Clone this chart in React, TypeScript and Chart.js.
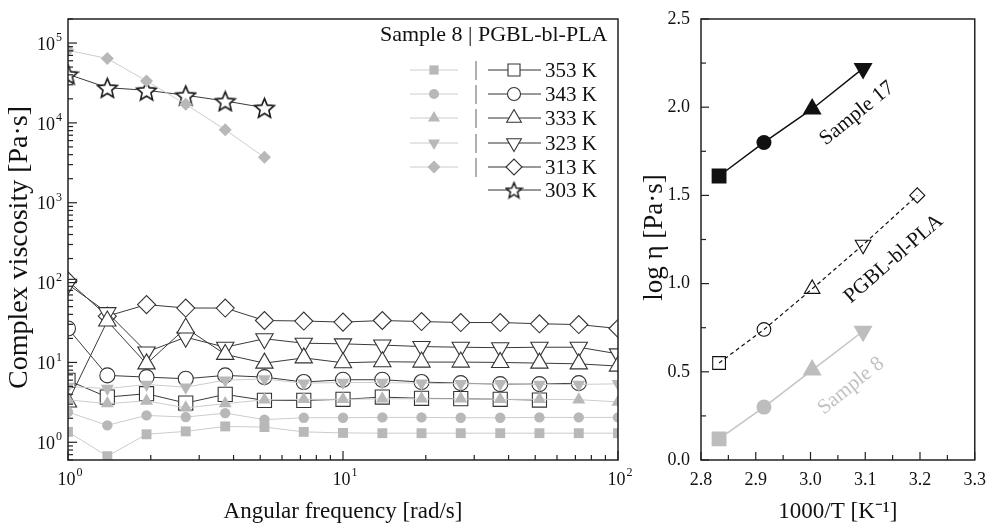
import React, { useEffect, useRef } from "react";
import { Chart, registerables } from "chart.js";
Chart.register(...registerables);

const SERIF = "'Liberation Serif', 'Times New Roman', serif";
Chart.defaults.font.family = SERIF;

// ---------- Left panel data ----------
const FREQ = [1, 1.39, 1.93, 2.68, 3.73, 5.18, 7.2, 10, 13.9, 19.3, 26.8, 37.3, 51.8, 72, 100];

const S8_353K = [1.35, 0.67, 1.26, 1.37, 1.58, 1.55, 1.35, 1.31, 1.3, 1.3, 1.3, 1.3, 1.3, 1.3, 1.3];
const S8_343K = [2.39, 1.63, 2.17, 2.07, 2.32, 1.92, 2.03, 2.03, 2.05, 2.05, 2.03, 2.03, 2.05, 2.05, 2.05];
const S8_333K = [3.4, 3.05, 3.3, 2.7, 3.05, 3.4, 3.45, 3.45, 3.5, 3.5, 3.5, 3.45, 3.45, 3.42, 3.2];
const S8_323K = [5.0, 4.7, 5.3, 4.9, 6.0, 6.2, 5.5, 5.6, 5.6, 5.5, 5.4, 5.4, 5.3, 5.3, 5.4];
const S8_313K = [81000, 64000, 33500, 17100, 8200, 3700];

const PG_353K = [5.96, 3.68, 4.06, 3.1, 3.98, 3.35, 3.35, 3.45, 3.68, 3.55, 3.52, 3.45, 3.38];
const PG_343K = [26.6, 6.88, 6.55, 6.25, 6.88, 6.55, 5.68, 6.07, 6.07, 5.68, 5.5, 5.35, 5.35, 5.5];
const PG_333K = [3.2, 33, 9.6, 27, 12.6, 9.8, 11.4, 9.9, 10.2, 10.1, 10.1, 10.0, 9.8, 9.6, 9.0];
const PG_323K = [95, 42, 13.5, 20.7, 15.5, 19.8, 17.4, 17.1, 16.5, 15.8, 15.5, 15.3, 15.5, 15.5, 12.8];
const PG_313K = [105, 38, 53, 48, 48, 33.5, 33, 32, 33.5, 32.5, 31.6, 31.6, 30.5, 29.8, 26.6];
const PG_303K = [40600, 27600, 25600, 22200, 18800, 15500];

const TEMPS = ["353 K", "343 K", "333 K", "323 K", "313 K", "303 K"];
const LEGEND_TITLE = "Sample 8 | PGBL-bl-PLA";
const X_TICKS_LEFT = [1, 10, 100];
const Y_TICKS_LEFT = [1, 10, 100, 1000, 10000, 100000];
const LEFT_Y_TITLE = "Complex viscosity [Pa·s]";

// ---------- Right panel data ----------
const INV_T = [2.833, 2.915, 3.003, 3.096, 3.195];
const LOG_S17 = [1.61, 1.8, 1.99, 2.22];
const LOG_PG = [0.55, 0.74, 0.97, 1.22, 1.5];
const LOG_S8 = [0.12, 0.3, 0.51, 0.73];
const X_TICKS_RIGHT = [2.8, 2.9, 3.0, 3.1, 3.2, 3.3];
const Y_TICKS_RIGHT = [0, 0.5, 1.0, 1.5, 2.0, 2.5];
const RIGHT_Y_TITLE = "log η [Pa·s]";

const GRAY = "#b8b8b8";
const GRAY_LINE = "#cccccc";
const DARK = "#333333";

const xy = (xs: number[], ys: number[]) => ys.map((y, i) => ({ x: xs[i], y }));

function makeStar(size: number, stroke: string, lw: number) {
  const c = document.createElement("canvas");
  c.width = size;
  c.height = size;
  const ctx = c.getContext("2d")!;
  const cx = size / 2, cy = size / 2 + size * 0.05;
  const R = size / 2 - 1.2, r = R * 0.45;
  ctx.beginPath();
  for (let i = 0; i < 10; i++) {
    const a = -Math.PI / 2 + (i * Math.PI) / 5;
    const rr = i % 2 === 0 ? R : r;
    ctx.lineTo(cx + rr * Math.cos(a), cy + rr * Math.sin(a));
  }
  ctx.closePath();
  ctx.fillStyle = "#fff";
  ctx.fill();
  ctx.lineWidth = lw;
  ctx.strokeStyle = stroke;
  ctx.stroke();
  return c;
}

function drawMarker(ctx: CanvasRenderingContext2D, style: any, x: number, y: number, r: number, fill: string, stroke: string | null, lw = 1, rot = 0) {
  if (style instanceof HTMLCanvasElement) {
    ctx.drawImage(style, x - style.width / 2, y - style.height / 2);
    return;
  }
  ctx.save();
  ctx.beginPath();
  if (style === "rect") {
    const s = r * Math.SQRT1_2;
    ctx.rect(x - s, y - s, 2 * s, 2 * s);
  } else if (style === "circle") {
    ctx.arc(x, y, r, 0, Math.PI * 2);
  } else if (style === "triangle") {
    let a = (rot * Math.PI) / 180;
    for (let i = 0; i < 3; i++) {
      ctx.lineTo(x + Math.sin(a) * r, y - Math.cos(a) * r);
      a += (2 * Math.PI) / 3;
    }
    ctx.closePath();
  } else if (style === "rectRot") {
    ctx.moveTo(x - r, y);
    ctx.lineTo(x, y - r);
    ctx.lineTo(x + r, y);
    ctx.lineTo(x, y + r);
    ctx.closePath();
  }
  ctx.fillStyle = fill;
  ctx.fill();
  if (stroke) {
    ctx.lineWidth = lw;
    ctx.strokeStyle = stroke;
    ctx.stroke();
  }
  ctx.restore();
}

function line(ctx: CanvasRenderingContext2D, x1: number, y1: number, x2: number, y2: number) {
  ctx.beginPath();
  ctx.moveTo(x1, y1);
  ctx.lineTo(x2, y2);
  ctx.stroke();
}

function supLabel(ctx: CanvasRenderingContext2D, exp: string, x: number, y: number, align: "right" | "center") {
  ctx.save();
  ctx.fillStyle = "#111";
  ctx.textBaseline = "middle";
  ctx.font = `18px ${SERIF}`;
  const bw = ctx.measureText("10").width;
  ctx.font = `12px ${SERIF}`;
  const ew = ctx.measureText(exp).width;
  const total = bw + ew + 1;
  const left = align === "right" ? x - total : x - total / 2;
  ctx.textAlign = "left";
  ctx.font = `18px ${SERIF}`;
  ctx.fillText("10", left, y);
  ctx.font = `12px ${SERIF}`;
  ctx.fillText(exp, left + bw + 1, y - 7);
  ctx.restore();
}

function verticalTitle(ctx: CanvasRenderingContext2D, text: string, x: number, y: number, size: number) {
  ctx.save();
  ctx.translate(x, y);
  ctx.rotate(-Math.PI / 2);
  ctx.fillStyle = "#111";
  ctx.font = `${size}px ${SERIF}`;
  ctx.textAlign = "center";
  ctx.textBaseline = "middle";
  ctx.fillText(text, 0, 0);
  ctx.restore();
}

export default function App() {
  const leftRef = useRef<HTMLCanvasElement>(null);
  const rightRef = useRef<HTMLCanvasElement>(null);

  useEffect(() => {
    const star = makeStar(23, "#1a1a1a", 1.6);
    const starLegend = makeStar(19, "#1a1a1a", 1.5);

    const open = (label: string, data: number[], style: any, r: number, rot = 0) => ({
      label,
      data: xy(FREQ, data),
      pointStyle: style,
      pointRadius: r,
      pointRotation: rot,
      pointBackgroundColor: "#ffffff",
      pointBorderColor: DARK,
      pointBorderWidth: 1.1,
      borderColor: "#3a3a3a",
      borderWidth: 1,
      showLine: true,
      order: 1,
      clip: 0,
    });
    const filled = (label: string, data: number[], style: any, r: number, rot = 0) => ({
      label,
      data: xy(FREQ, data),
      pointStyle: style,
      pointRadius: r,
      pointRotation: rot,
      pointBackgroundColor: GRAY,
      pointBorderColor: GRAY,
      pointBorderWidth: 0,
      borderColor: GRAY_LINE,
      borderWidth: 1,
      showLine: true,
      order: 0,
      clip: 0,
    });

    const legendRows = [
      { g: ["rect", 6.5, 0], b: ["rect", 8.5, 0] },
      { g: ["circle", 5, 0], b: ["circle", 6.5, 0] },
      { g: ["triangle", 7, 0], b: ["triangle", 8.5, 0] },
      { g: ["triangle", 7, 180], b: ["triangle", 8.5, 180] },
      { g: ["rectRot", 6.5, 0], b: ["rectRot", 8, 0] },
      { g: null, b: [starLegend, 0, 0] },
    ];

    const leftDeco = {
      id: "leftDeco",
      afterDraw(chart: any) {
        const { ctx, chartArea: a, scales } = chart;
        const xs = scales.x, ys = scales.y;
        ctx.save();
        ctx.strokeStyle = "#222";
        ctx.lineWidth = 1.2;
        for (let dec = 1; dec < 100; dec *= 10) {
          for (let m = 2; m <= 9; m++) {
            const px = xs.getPixelForValue(dec * m);
            line(ctx, px, a.bottom, px, a.bottom - 5);
          }
        }
        for (const v of X_TICKS_LEFT) {
          const px = xs.getPixelForValue(v);
          line(ctx, px, a.bottom, px, a.bottom - 9);
        }
        for (let dec = 0.1; dec < 1e6; dec *= 10) {
          for (let m = 2; m <= 9; m++) {
            const v = dec * m;
            if (v < ys.min || v > ys.max) continue;
            const py = ys.getPixelForValue(v);
            line(ctx, a.left, py, a.left + 5, py);
          }
        }
        for (const v of Y_TICKS_LEFT) {
          const py = ys.getPixelForValue(v);
          line(ctx, a.left, py, a.left + 9, py);
        }
        ctx.lineWidth = 1.5;
        ctx.strokeRect(a.left, a.top, a.right - a.left, a.bottom - a.top);
        for (const v of X_TICKS_LEFT) {
          const e = Math.round(Math.log10(v));
          supLabel(ctx, String(e), xs.getPixelForValue(v) + 2, a.bottom + 20, "center");
        }
        for (const v of Y_TICKS_LEFT) {
          const e = Math.round(Math.log10(v));
          supLabel(ctx, String(e), a.left - 6, ys.getPixelForValue(v) + 2, "right");
        }
        verticalTitle(ctx, LEFT_Y_TITLE, 20, (a.top + a.bottom) / 2 + 8, 28);
        // legend
        ctx.fillStyle = "#111";
        ctx.font = `22px ${SERIF}`;
        ctx.textAlign = "left";
        ctx.textBaseline = "alphabetic";
        ctx.fillText(LEGEND_TITLE, 380, 41);
        const rowY = [70, 94, 118, 143, 167, 190];
        legendRows.forEach((row, i) => {
          const y = rowY[i];
          if (row.g) {
            ctx.strokeStyle = GRAY_LINE;
            ctx.lineWidth = 1;
            line(ctx, 410, y, 458, y);
            drawMarker(ctx, row.g[0], 434, y, row.g[1] as number, GRAY, null, 0, row.g[2] as number);
            ctx.fillStyle = "#666";
            ctx.font = `20px ${SERIF}`;
            ctx.textBaseline = "middle";
            ctx.textAlign = "center";
            ctx.fillText("|", 476, y);
          }
          ctx.strokeStyle = DARK;
          ctx.lineWidth = 1;
          line(ctx, 488, y, 541, y);
          drawMarker(ctx, row.b[0], 514, y, row.b[1] as number, "#fff", DARK, 1.1, row.b[2] as number);
          ctx.fillStyle = "#111";
          ctx.font = `21px ${SERIF}`;
          ctx.textBaseline = "middle";
          ctx.textAlign = "left";
          ctx.fillText(TEMPS[i], 545, y + 1);
        });
        ctx.restore();
      },
    };

    const left = new Chart(leftRef.current!, {
      type: "scatter",
      data: {
        datasets: [
          filled("Sample 8 353 K", S8_353K, "rect", 7),
          filled("Sample 8 343 K", S8_343K, "circle", 5.2),
          filled("Sample 8 333 K", S8_333K, "triangle", 7.5),
          filled("Sample 8 323 K", S8_323K, "triangle", 7.5, 180),
          filled("Sample 8 313 K", S8_313K, "rectRot", 6.5),
          open("PGBL-bl-PLA 353 K", PG_353K, "rect", 10),
          open("PGBL-bl-PLA 343 K", PG_343K, "circle", 7.5),
          open("PGBL-bl-PLA 333 K", PG_333K, "triangle", 10),
          open("PGBL-bl-PLA 323 K", PG_323K, "triangle", 10, 180),
          open("PGBL-bl-PLA 313 K", PG_313K, "rectRot", 9),
          open("PGBL-bl-PLA 303 K", PG_303K, star, 11),
        ] as any,
      },
      options: {
        responsive: false,
        animation: false,
        events: [],
        layout: { padding: { top: 19, right: 22, left: 0, bottom: 0 } },
        plugins: { legend: { display: false }, tooltip: { enabled: false } },
        scales: {
          x: {
            type: "logarithmic",
            min: 1,
            max: 100,
            grid: { display: false },
            border: { display: false },
            ticks: { display: false },
            afterFit: (s: any) => { s.height = 66; },
            title: {
              display: true,
              text: "Angular frequency [rad/s]",
              color: "#111",
              font: { family: SERIF, size: 23 },
              padding: { top: 0, bottom: 0 },
            },
          },
          y: {
            type: "logarithmic",
            min: 0.6,
            max: 200000,
            grid: { display: false },
            border: { display: false },
            ticks: { display: false },
            afterFit: (s: any) => { s.width = 68; },
            title: { display: false },
          },
        },
      } as any,
      plugins: [leftDeco],
    });

    const rightDeco = {
      id: "rightDeco",
      afterDraw(chart: any) {
        const { ctx, chartArea: a, scales } = chart;
        const xs = scales.x, ys = scales.y;
        ctx.save();
        ctx.strokeStyle = "#222";
        ctx.lineWidth = 1.2;
        for (let i = 0; i < X_TICKS_RIGHT.length; i++) {
          const v = X_TICKS_RIGHT[i];
          const px = xs.getPixelForValue(v);
          line(ctx, px, a.bottom, px, a.bottom - 8);
          if (i < X_TICKS_RIGHT.length - 1) {
            const pm = xs.getPixelForValue((v + X_TICKS_RIGHT[i + 1]) / 2);
            line(ctx, pm, a.bottom, pm, a.bottom - 5);
          }
        }
        for (let i = 0; i < Y_TICKS_RIGHT.length; i++) {
          const v = Y_TICKS_RIGHT[i];
          const py = ys.getPixelForValue(v);
          line(ctx, a.left, py, a.left + 8, py);
          if (i < Y_TICKS_RIGHT.length - 1) {
            const pm = ys.getPixelForValue((v + Y_TICKS_RIGHT[i + 1]) / 2);
            line(ctx, a.left, pm, a.left + 5, pm);
          }
        }
        ctx.lineWidth = 1.5;
        ctx.strokeRect(a.left, a.top, a.right - a.left, a.bottom - a.top);
        verticalTitle(ctx, RIGHT_Y_TITLE, 15, (a.top + a.bottom) / 2 - 2, 27);
        const notes = [
          { text: "Sample 17", x: 3.085, y: 1.965, rot: -39, color: "#111" },
          { text: "PGBL-bl-PLA", x: 3.152, y: 1.14, rot: -41, color: "#111" },
          { text: "Sample 8", x: 3.074, y: 0.42, rot: -39, color: "#c2c2c2" },
        ];
        ctx.font = `21px ${SERIF}`;
        ctx.textAlign = "center";
        ctx.textBaseline = "middle";
        for (const n of notes) {
          ctx.save();
          ctx.translate(xs.getPixelForValue(n.x), ys.getPixelForValue(n.y));
          ctx.rotate((n.rot * Math.PI) / 180);
          ctx.fillStyle = n.color;
          ctx.fillText(n.text, 0, 0);
          ctx.restore();
        }
        ctx.restore();
      },
    };

    const right = new Chart(rightRef.current!, {
      type: "scatter",
      data: {
        datasets: [
          {
            label: "Sample 17",
            data: xy(INV_T, LOG_S17),
            showLine: true,
            borderColor: "#111",
            borderWidth: 1.5,
            pointStyle: ["rect", "circle", "triangle", "triangle"],
            pointRotation: [0, 0, 0, 180],
            pointRadius: [10.5, 7.5, 11, 11],
            pointBackgroundColor: "#111",
            pointBorderColor: "#111",
            pointBorderWidth: 0,
          },
          {
            label: "PGBL-bl-PLA",
            data: xy(INV_T, LOG_PG),
            showLine: true,
            borderColor: "#111",
            borderWidth: 1.2,
            borderDash: [4, 3],
            pointStyle: ["rect", "circle", "triangle", "triangle", "rectRot"],
            pointRotation: [0, 0, 0, 180, 0],
            pointRadius: [9, 6.8, 9, 9, 7.5],
            pointBackgroundColor: "rgba(255,255,255,0)",
            pointBorderColor: "#111",
            pointBorderWidth: 1.1,
          },
          {
            label: "Sample 8",
            data: xy(INV_T, LOG_S8),
            showLine: true,
            borderColor: "#c4c4c4",
            borderWidth: 1.5,
            pointStyle: ["rect", "circle", "triangle", "triangle"],
            pointRotation: [0, 0, 0, 180],
            pointRadius: [10.5, 7.5, 11, 11],
            pointBackgroundColor: "#bdbdbd",
            pointBorderColor: "#bdbdbd",
            pointBorderWidth: 0,
          },
        ] as any,
      },
      options: {
        responsive: false,
        animation: false,
        events: [],
        layout: { padding: { top: 19, right: 12, left: 0, bottom: 0 } },
        plugins: { legend: { display: false }, tooltip: { enabled: false } },
        scales: {
          x: {
            type: "linear",
            min: 2.8,
            max: 3.3,
            grid: { display: false },
            border: { display: false },
            afterBuildTicks: (s: any) => { s.ticks = X_TICKS_RIGHT.map((v) => ({ value: v })); },
            ticks: {
              color: "#111",
              font: { family: SERIF, size: 18 },
              padding: 1,
              maxRotation: 0,
              autoSkip: false,
              callback: (v: any) => Number(v).toFixed(1),
            },
            afterFit: (s: any) => { s.height = 66; },
            title: {
              display: true,
              text: "1000/T [K⁻¹]",
              color: "#111",
              font: { family: SERIF, size: 23 },
              padding: { top: 0, bottom: 0 },
            },
          },
          y: {
            type: "linear",
            min: 0,
            max: 2.5,
            grid: { display: false },
            border: { display: false },
            afterBuildTicks: (s: any) => { s.ticks = Y_TICKS_RIGHT.map((v) => ({ value: v })); },
            ticks: {
              color: "#111",
              font: { family: SERIF, size: 18 },
              padding: 3,
              autoSkip: false,
              callback: (v: any) => Number(v).toFixed(1),
            },
            afterFit: (s: any) => { s.width = 61; },
            title: { display: false },
          },
        },
      } as any,
      plugins: [rightDeco],
    });

    return () => {
      left.destroy();
      right.destroy();
    };
  }, []);

  return (
    <div style={{ position: "fixed", left: 0, top: 0, width: 987, height: 526, background: "#fff" }}>
      <canvas ref={leftRef} width={640} height={526} style={{ position: "absolute", left: 0, top: 0 }} />
      <canvas ref={rightRef} width={347} height={526} style={{ position: "absolute", left: 640, top: 0 }} />
    </div>
  );
}
